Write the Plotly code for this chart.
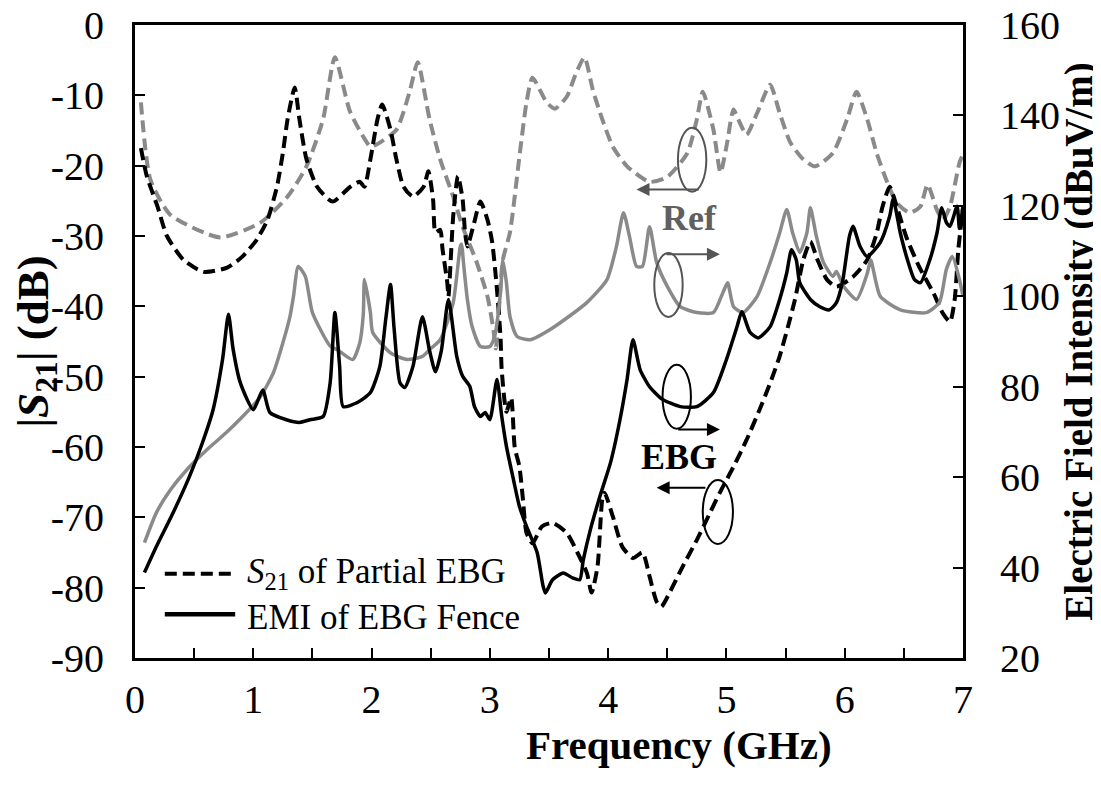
import plotly.graph_objects as go

# ---------------- data ----------------
ref_s21_f = [0.05, 0.13, 0.30, 0.72, 1.06, 1.29, 1.45, 1.59, 1.69, 1.82, 1.99, 2.03, 2.21, 2.32, 2.39,
             2.49, 2.58, 2.69, 2.77, 2.89, 2.98, 3.03, 3.05, 3.11, 3.17, 3.25, 3.31, 3.36, 3.48, 3.55,
             3.65, 3.73, 3.80, 3.87, 3.95, 4.04, 4.16, 4.35, 4.50, 4.67, 4.75, 4.80, 4.89, 4.95, 5.00,
             5.06, 5.10, 5.17, 5.26, 5.37, 5.45, 5.54, 5.65, 5.75, 5.90, 6.02, 6.10, 6.19, 6.27, 6.36,
             6.44, 6.55, 6.64, 6.70, 6.78, 6.83, 6.89, 6.97, 7.00]
ref_s21_db = [-11, -22, -27, -30.2, -28.1, -24.4, -20.1, -13.4, -4.6, -12.4, -17.3, -17.1, -14.9, -9.6, -5.3,
              -13.4, -19.1, -24.4, -28.7, -33.8, -38.6, -43.3, -46, -33.4, -29.5, -18.7, -11, -7.5, -11, -11.9,
              -10.2, -6.8, -4.6, -9.2, -13.4, -17.3, -20.1, -22.3, -21.6, -18.2, -13.4, -9.5, -14.9, -21, -17.3,
              -12, -13.4, -15.6, -12.5, -8.5, -12.5, -16.7, -19.1, -20.1, -18.2, -13.4, -9.5, -13.4, -18.2, -22.4,
              -25.3, -26.7, -25.8, -22.7, -26.3, -27.7, -25.8, -19.6, -18.4]

ebg_s21_f = [0.05, 0.10, 0.19, 0.27, 0.41, 0.58, 0.78, 0.91, 1.03, 1.12, 1.20, 1.25, 1.29, 1.35, 1.39,
             1.45, 1.54, 1.67, 1.82, 1.90, 1.94, 1.99, 2.05, 2.09, 2.16, 2.21, 2.27, 2.35, 2.44, 2.48,
             2.52, 2.54, 2.58, 2.60, 2.64, 2.65, 2.69, 2.73, 2.77, 2.79, 2.81, 2.86, 2.92, 2.98, 3.02,
             3.06, 3.09, 3.10, 3.14, 3.18, 3.21, 3.25, 3.28, 3.31, 3.36, 3.44, 3.53, 3.65, 3.74, 3.82,
             3.86, 3.91, 3.95, 3.97, 4.04, 4.12, 4.21, 4.29, 4.35, 4.41, 4.45, 4.52, 4.63, 4.75, 4.86,
             4.95, 5.06, 5.17, 5.28, 5.37, 5.45, 5.52, 5.58, 5.65, 5.71, 5.77, 5.85, 5.93, 6.07, 6.19,
             6.27, 6.32, 6.38, 6.44, 6.52, 6.63, 6.75, 6.83, 6.89, 6.93, 6.96, 7.00]
ebg_s21_db = [-17.5, -21.5, -25.8, -30, -33.4, -35.1, -34.5, -32.9, -30.5, -27.7, -23, -18.2, -13.4, -8.9, -13.4,
              -19.1, -23, -25.1, -23, -22.3, -23, -19.1, -13.4, -11.3, -14.9, -19.1, -23, -24.4, -23, -20.8,
              -24.8, -29.5, -29.1, -31.9, -36.6, -38.6, -27.2, -21.5, -24.8, -29.5, -31.5, -28.6, -25.1, -27.7, -30.9,
              -37.6, -44.3, -49, -55, -53, -60, -62.8, -67.5, -72.2, -73.7, -71.3, -70.8, -72.2, -75, -77.9,
              -80.7, -77, -67.5, -66.5, -69.9, -74.2, -75.8, -75, -78.4, -82, -82.7, -80.7, -77, -73.2, -69.4,
              -66.3, -62.8, -59, -54.7, -50.9, -47.1, -42.9, -39, -33.4, -30.8, -33.4, -36.2, -37.2, -35.8, -33.4,
              -29.6, -25.8, -23, -25.8, -30.1, -34.4, -38.1, -41, -42.2, -39, -32, -26]

ref_emi_f = [0.08, 0.18, 0.30, 0.44, 0.61, 0.77, 0.91, 1.06, 1.17, 1.25, 1.31, 1.34, 1.38, 1.44, 1.50,
             1.65, 1.71, 1.84, 1.90, 1.93, 1.94, 1.99, 2.01, 2.16, 2.30, 2.43, 2.49, 2.58, 2.69, 2.75,
             2.76, 2.78, 2.81, 2.85, 2.92, 3.00, 3.04, 3.09, 3.11, 3.14, 3.17, 3.23, 3.34, 3.53, 3.82,
             3.99, 4.07, 4.13, 4.18, 4.24, 4.29, 4.35, 4.41, 4.50, 4.61, 4.75, 4.89, 4.97, 5.01, 5.06,
             5.14, 5.26, 5.37, 5.45, 5.51, 5.56, 5.62, 5.68, 5.71, 5.76, 5.82, 5.90, 5.93, 5.99, 6.10,
             6.19, 6.22, 6.30, 6.47, 6.69, 6.80, 6.86, 6.91, 6.97, 7.00]
ref_emi_e = [45.5, 52.1, 57.2, 61.7, 66.1, 69.8, 73.4, 77.8, 83.1, 89.7, 95.5, 100, 106.6, 104.4, 96.4,
             89, 88.2, 86, 89.7, 96, 103.7, 96.4, 92, 87.5, 86, 86.7, 88.2, 90.4, 98.6, 111,
             111.5, 106.6, 99.3, 93.3, 88.9, 88.9, 91.1, 100.8, 108, 103, 95.5, 91.1, 90.4, 93, 98.6,
             103.7, 111, 118.5, 113.3, 106.6, 106.6, 115.4, 107.5, 102.2, 97.7, 96.4, 96.4, 100.8, 103, 97.7,
             96.4, 100, 107.5, 114, 119.2, 114, 109.7, 114, 119.6, 113.3, 107.5, 104.4, 105.5, 102.2, 99.3,
             105, 108, 100, 97, 96.4, 98.6, 106, 108.8, 103.7, 100]

ebg_emi_f = [0.08, 0.18, 0.32, 0.46, 0.57, 0.66, 0.74, 0.79, 0.83, 0.89, 1.00, 1.08, 1.14, 1.28, 1.39,
             1.48, 1.59, 1.65, 1.69, 1.73, 1.76, 1.88, 1.99, 2.07, 2.12, 2.16, 2.19, 2.24, 2.28, 2.35,
             2.43, 2.49, 2.54, 2.59, 2.65, 2.72, 2.77, 2.83, 2.87, 2.92, 2.96, 3.00, 3.06, 3.10, 3.14,
             3.20, 3.25, 3.31, 3.40, 3.45, 3.47, 3.53, 3.62, 3.70, 3.76, 3.79, 3.85, 3.93, 4.02, 4.10,
             4.16, 4.21, 4.27, 4.35, 4.46, 4.61, 4.75, 4.89, 5.00, 5.09, 5.13, 5.20, 5.27, 5.37, 5.45,
             5.51, 5.55, 5.59, 5.62, 5.71, 5.79, 5.87, 5.93, 5.98, 6.04, 6.07, 6.13, 6.19, 6.30, 6.38,
             6.41, 6.47, 6.53, 6.59, 6.64, 6.72, 6.78, 6.82, 6.86, 6.89, 6.95, 6.97, 7.00]
ebg_emi_e = [38.9, 44.6, 52, 60.1, 67.6, 74.9, 86, 96, 88.2, 80.9, 74.9, 79.3, 74.3, 72.7, 72.1,
             72.7, 73.4, 80.9, 96.4, 84.5, 75.6, 76.5, 78.7, 84.5, 95, 102.6, 93, 80.9, 79.8, 84.5,
             95.5, 88, 83.3, 88, 99.3, 86.7, 82.3, 80.1, 75.6, 73.4, 74.3, 72.7, 81.6, 73.5, 66.8,
             59.4, 53.5, 49.1, 43.3, 35.9, 34.4, 37.3, 38.8, 37.7, 37.3, 41.7, 48.4, 55.7, 63.2, 72.7,
             81.6, 90.4, 83.8, 80, 77.2, 75.6, 75.6, 78.7, 86, 93.3, 96.6, 92, 90.8, 93.3, 99.3,
             105.2, 110.3, 108.1, 103, 99.3, 97.7, 97, 98.6, 103, 113.3, 115.5, 111, 108.8, 111.9, 117.7,
             121.5, 114, 108.1, 103.7, 103, 108.1, 114, 119.6, 116.3, 115.5, 119.9, 115, 120]

x_ticks = [0, 1, 2, 3, 4, 5, 6, 7]
y_ticks = [0, -10, -20, -30, -40, -50, -60, -70, -80, -90]
y_ticktext = ["0", "-10", "-20", "-30", "-40", "-50", "-60", "-70", "-80", "-90"]
y2_ticks = [20, 40, 60, 80, 100, 120, 140, 160]

# ---------------- style ----------------
FONT = "Liberation Serif"
GRAY = "#8a8a8a"
DARKGRAY = "#555555"
BLACK = "#000000"
SMOOTH = 0.6

fig = go.Figure()
fig.add_trace(go.Scatter(x=ref_s21_f, y=ref_s21_db, mode="lines",
                         line=dict(color=GRAY, width=4, dash="12px,6px", shape="spline", smoothing=SMOOTH),
                         showlegend=False))
fig.add_trace(go.Scatter(x=ref_emi_f, y=ref_emi_e, mode="lines", yaxis="y2",
                         line=dict(color=GRAY, width=3.5, shape="spline", smoothing=SMOOTH), showlegend=False))
fig.add_trace(go.Scatter(x=ebg_s21_f, y=ebg_s21_db, mode="lines",
                         line=dict(color=BLACK, width=4, dash="12px,6px", shape="spline", smoothing=SMOOTH),
                         showlegend=False))
fig.add_trace(go.Scatter(x=ebg_emi_f, y=ebg_emi_e, mode="lines", yaxis="y2",
                         line=dict(color=BLACK, width=3.5, shape="spline", smoothing=SMOOTH), showlegend=False))

shapes = []
# ellipses (annotation marks)
for (x0, x1, y0, y1, c) in [(4.59, 4.83, -23.7, -14.6, DARKGRAY),
                            (4.39, 4.63, -41.5, -32.4, DARKGRAY),
                            (4.46, 4.70, -57.4, -48.3, BLACK),
                            (4.80, 5.055, -73.8, -64.7, BLACK)]:
    shapes.append(dict(type="circle", xref="x", yref="y", x0=x0, x1=x1, y0=y0, y1=y1,
                       line=dict(color=c, width=2)))
# legend samples
shapes.append(dict(type="line", xref="paper", yref="paper", x0=0.036, x1=0.121, y0=0.133, y1=0.133,
                   line=dict(color=BLACK, width=4, dash="12px,6px")))
shapes.append(dict(type="line", xref="paper", yref="paper", x0=0.036, x1=0.121, y0=0.069, y1=0.069,
                   line=dict(color=BLACK, width=4.5)))

annotations = []
# arrows
for (hx, hy, tx, ty, c) in [(4.24, -23.4, 4.78, -23.4, DARKGRAY),
                            (4.945, -32.6, 4.48, -32.6, DARKGRAY),
                            (4.945, -57.5, 4.58, -57.5, BLACK),
                            (4.41, -65.8, 4.835, -65.8, BLACK)]:
    annotations.append(dict(x=hx, y=hy, ax=tx, ay=ty, xref="x", yref="y", axref="x", ayref="y",
                            text="", showarrow=True, arrowhead=2, arrowsize=1.3, arrowwidth=2,
                            arrowcolor=c))
annotations.append(dict(x=4.69, y=-27.4, xref="x", yref="y", text="<b>Ref</b>", showarrow=False,
                        font=dict(family=FONT, size=36, color="#606060")))
annotations.append(dict(x=4.60, y=-61.4, xref="x", yref="y", text="<b>EBG</b>", showarrow=False,
                        font=dict(family=FONT, size=36, color=BLACK)))
# legend texts
annotations.append(dict(x=0.133, y=0.133, xref="paper", yref="paper", xanchor="left", yanchor="middle",
                        text="<i>S</i><sub>21</sub> of Partial EBG", showarrow=False,
                        font=dict(family=FONT, size=35, color=BLACK)))
annotations.append(dict(x=0.133, y=0.064, xref="paper", yref="paper", xanchor="left", yanchor="middle",
                        text="EMI of EBG Fence", showarrow=False,
                        font=dict(family=FONT, size=35, color=BLACK)))
# x-axis title
annotations.append(dict(x=(679 - 135) / 828, y=-(745 - 658) / 633, xref="paper", yref="paper",
                        yanchor="middle", text="<b>Frequency (GHz)</b>", showarrow=False,
                        font=dict(family=FONT, size=41, color=BLACK)))

# the page adds an 8 px body margin, so the figure is 8 px smaller and offset
fig.update_layout(
    width=1093, height=777,
    margin=dict(l=127, r=138, t=17, b=127, autoexpand=False),
    paper_bgcolor="white", plot_bgcolor="white",
    font=dict(family=FONT, size=40, color=BLACK),
    showlegend=False,
    shapes=shapes, annotations=annotations,
    xaxis=dict(range=[0, 7], tickvals=x_ticks, ticks="inside", ticklen=10, tickwidth=2,
               tickcolor=BLACK, showline=True, linewidth=3, linecolor=BLACK, mirror=True,
               showgrid=False, zeroline=False, ticklabelstandoff=4, automargin=False,
               ticklabeloverflow="allow",
               minor=dict(dtick=0.5, ticks="inside", ticklen=10, tickwidth=2, tickcolor=BLACK),
               tickfont=dict(family=FONT, size=40)),
    yaxis=dict(range=[-90, 0], tickvals=y_ticks, ticktext=y_ticktext, ticks="inside", ticklen=10,
               tickwidth=2, tickcolor=BLACK, showline=True, linewidth=3, linecolor=BLACK,
               showgrid=False, zeroline=False, ticklabelstandoff=20, automargin=False,
               ticklabeloverflow="allow",
               tickfont=dict(family=FONT, size=40),
               title=dict(text="<b>|<i>S</i><sub>21</sub>| (dB)</b>", standoff=2,
                          font=dict(family=FONT, size=45))),
    yaxis2=dict(range=[20, 160], tickvals=y2_ticks, overlaying="y", side="right", ticks="inside",
                ticklen=10, tickwidth=2, tickcolor=BLACK, showline=True, linewidth=3, linecolor=BLACK,
                showgrid=False, zeroline=False, ticklabelstandoff=26, automargin=False,
                ticklabeloverflow="allow",
                tickfont=dict(family=FONT, size=40),
                title=dict(text="<b>Electric Field Intensity (dBμV/m)</b>", standoff=0,
                           font=dict(family=FONT, size=39))),
)

fig.write_html("out.html")
